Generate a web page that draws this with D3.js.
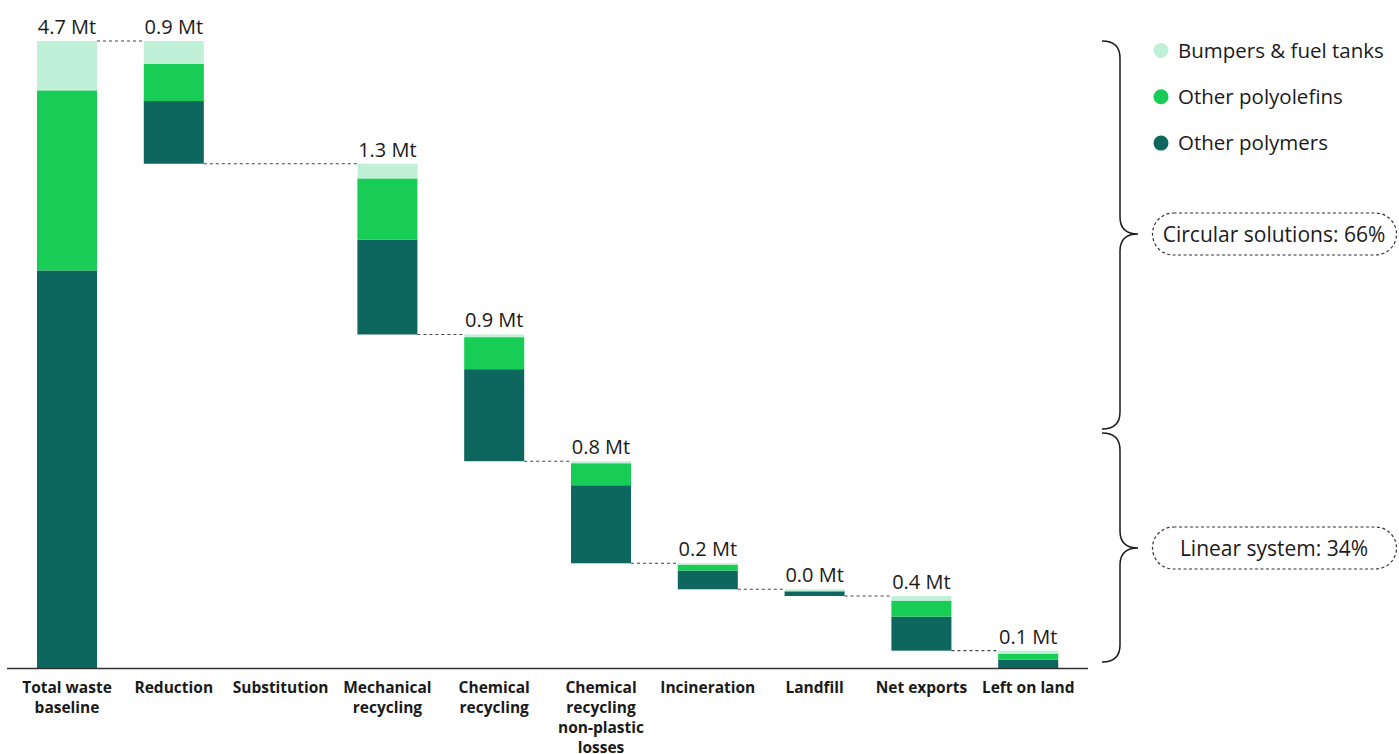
<!DOCTYPE html>
<html>
<head>
<meta charset="utf-8">
<script src="https://cdn.jsdelivr.net/npm/d3@7"></script>
<style>
  html, body { margin: 0; padding: 0; background: #fff; }
  svg { display: block; }
</style>
</head>
<body>
<div id="chart"></div>
<script>
// ---------------- DATA ----------------
const categories = [
  "Total waste\nbaseline", "Reduction", "Substitution", "Mechanical\nrecycling",
  "Chemical\nrecycling", "Chemical\nrecycling\nnon-plastic\nlosses", "Incineration",
  "Landfill", "Net exports", "Left on land"
];
const seriesNames = ["Bumpers & fuel tanks", "Other polyolefins", "Other polymers"];
const bumpers     = [0.37, 0.17, 0, 0.11, 0.02, 0.015, 0.01, 0.015, 0.035, 0.022];
const polyolefins = [1.35, 0.28, 0, 0.46, 0.24, 0.165, 0.045, 0.0, 0.12, 0.045];
const polymers    = [2.98, 0.47, 0, 0.71, 0.69, 0.585, 0.14, 0.035, 0.255, 0.063];
const valueLabels = ["4.7 Mt", "0.9 Mt", "", "1.3 Mt", "0.9 Mt", "0.8 Mt", "0.2 Mt", "0.0 Mt", "0.4 Mt", "0.1 Mt"];
const groupLabels = ["Circular solutions: 66%", "Linear system: 34%"];
const yDomainMax = 4.7;

// ---------------- LAYOUT ----------------
const W = 1399, H = 754;
const colors = ["#c1f0d9", "#18cd56", "#0d675e"];
const baseY = 668, topY = 41;
const fontMain = "'Open Sans', 'Noto Sans', sans-serif";

const svg = d3.select("#chart").append("svg").attr("width", W).attr("height", H);

const x = d3.scaleBand().domain(categories).range([13.6, 1081.6]).paddingInner(0.438).paddingOuter(0.219);
const y = d3.scaleLinear().domain([0, yDomainMax]).range([baseY, topY]);

// build waterfall rows
let level = yDomainMax;
const rows = categories.map((c, i) => {
  const vals = [polymers[i], polyolefins[i], bumpers[i]]; // bottom -> top
  const total = vals[0] + vals[1] + vals[2];
  let bottom, top;
  if (i === 0) { bottom = 0; top = total; level = total; }
  else { top = level; bottom = level - total; level = bottom; }
  const segs = [];
  let acc = bottom;
  [[vals[0], 2], [vals[1], 1], [vals[2], 0]].forEach(([v, ci]) => {
    segs.push({ y0: acc, y1: acc + v, color: colors[ci] });
    acc += v;
  });
  const endLevel = i === 0 ? top : bottom;
  return { cat: c, i, total, top, bottom, segs, endLevel, label: valueLabels[i] };
});

// connectors (dotted) between consecutive drawn bars
const drawn = rows.filter(r => r.total > 0);
const connG = svg.append("g");
for (let k = 0; k < drawn.length - 1; k++) {
  const a = drawn[k], b = drawn[k + 1];
  connG.append("line")
    .attr("x1", x(a.cat) + x.bandwidth())
    .attr("x2", x(b.cat))
    .attr("y1", y(a.endLevel)).attr("y2", y(a.endLevel))
    .attr("stroke", "#444").attr("stroke-width", 1.1)
    .attr("stroke-dasharray", "3,3");
}

// bars
const barG = svg.append("g");
rows.forEach(r => {
  r.segs.forEach(s => {
    if (s.y1 - s.y0 <= 0) return;
    barG.append("rect")
      .attr("x", x(r.cat))
      .attr("width", x.bandwidth())
      .attr("y", y(s.y1))
      .attr("height", y(s.y0) - y(s.y1))
      .attr("fill", s.color);
  });
  if (r.label) {
    barG.append("text")
      .attr("x", x(r.cat) + x.bandwidth() / 2)
      .attr("y", y(r.top) - 7)
      .attr("text-anchor", "middle")
      .attr("font-family", fontMain)
      .attr("font-size", 20)
      .attr("fill", "#1a1a1a")
      .text(r.label);
  }
});

// axis line
svg.append("line")
  .attr("x1", 7).attr("x2", 1088)
  .attr("y1", baseY + 0.5).attr("y2", baseY + 0.5)
  .attr("stroke", "#333").attr("stroke-width", 1.5);

// category labels
const labG = svg.append("g");
categories.forEach(c => {
  const t = labG.append("text")
    .attr("x", x(c) + x.bandwidth() / 2)
    .attr("y", 693)
    .attr("text-anchor", "middle")
    .attr("font-family", fontMain)
    .attr("font-weight", 700)
    .attr("font-size", 15.5)
    .attr("fill", "#1a1a1a");
  c.split("\n").forEach((ln, j) => {
    t.append("tspan").attr("x", x(c) + x.bandwidth() / 2).attr("dy", j === 0 ? 0 : 20).text(ln);
  });
});

// legend
const legG = svg.append("g");
seriesNames.forEach((n, i) => {
  const ly = 50.5 + i * 46.3;
  legG.append("circle").attr("cx", 1161).attr("cy", ly).attr("r", 7.5).attr("fill", colors[i]);
  legG.append("text").attr("x", 1178).attr("y", ly + 7)
    .attr("font-family", fontMain).attr("font-size", 20.5).attr("fill", "#1a1a1a").text(n);
});

// braces
function brace(x0, xv, xt, y0, y1, ym, r) {
  return `M${x0},${y0} Q${xv},${y0} ${xv},${y0 + r} L${xv},${ym - r} Q${xv},${ym} ${xt},${ym}` +
         ` Q${xv},${ym} ${xv},${ym + r} L${xv},${y1 - r} Q${xv},${y1} ${x0},${y1}`;
}
const braces = [
  { y0: 41, y1: 429, ym: 234, label: groupLabels[0] },
  { y0: 433, y1: 662, ym: 548, label: groupLabels[1] }
];
braces.forEach(b => {
  svg.append("path").attr("d", brace(1102, 1120, 1138, b.y0, b.y1, b.ym, 17))
    .attr("fill", "none").attr("stroke", "#1a1a1a").attr("stroke-width", 1.5);
  svg.append("rect")
    .attr("x", 1152.5).attr("y", b.ym - 21).attr("width", 244).attr("height", 42)
    .attr("rx", 21).attr("ry", 21)
    .attr("fill", "#fff").attr("stroke", "#333").attr("stroke-width", 1.2)
    .attr("stroke-dasharray", "3,2.5");
  svg.append("text").attr("x", 1274).attr("y", b.ym + 7.5)
    .attr("text-anchor", "middle")
    .attr("font-family", fontMain).attr("font-size", 21).attr("fill", "#1a1a1a")
    .text(b.label);
});
</script>
</body>
</html>
